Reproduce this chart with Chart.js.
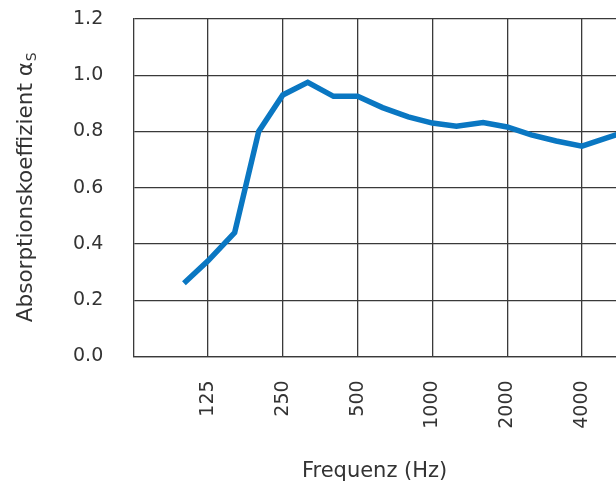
<!DOCTYPE html>
<html>
<head>
<meta charset="utf-8">
<script src="https://cdn.jsdelivr.net/npm/chart.js@4"></script>
<style>
  html, body { margin: 0; padding: 0; background: #fff; overflow: hidden; }
  #wrap { width: 616px; height: 491px; }
</style>
</head>
<body>
<div id="wrap"><canvas id="chart"></canvas></div>
<script>
// third-octave band centre frequencies (Hz)
const freqs = [100, 125, 160, 200, 250, 315, 400, 500, 630, 800, 1000, 1250, 1600, 2000, 2500, 3150, 4000, 5000, 6300];
// absorption coefficient alpha_s
const alpha = [0.26, 0.34, 0.44, 0.80, 0.93, 0.975, 0.925, 0.925, 0.885, 0.852, 0.83, 0.819, 0.832, 0.816, 0.788, 0.766, 0.748, 0.776, 0.805];
// octave tick labels on the x axis
const xTicks = [125, 250, 500, 1000, 2000, 4000];
const yTicks = [0, 0.2, 0.4, 0.6, 0.8, 1.0, 1.2];

const gridColor = '#3a3a3a';
const textColor = '#333333';
const fontFamily = '"DejaVu Sans", sans-serif';

// y axis title with subscript S
const yTitle = {
  id: 'yTitle',
  afterDraw(chart) {
    const ctx = chart.ctx;
    const area = chart.chartArea;
    const main = 'Absorptionskoeffizient \u03b1';
    const sub = 'S';
    ctx.save();
    ctx.fillStyle = textColor;
    ctx.font = '21.5px ' + fontFamily;
    const w1 = ctx.measureText(main).width;
    ctx.font = '14px ' + fontFamily;
    const w2 = ctx.measureText(sub).width;
    const total = w1 + w2;
    ctx.translate(32, (area.top + area.bottom) / 2);
    ctx.rotate(-Math.PI / 2);
    ctx.textBaseline = 'alphabetic';
    ctx.textAlign = 'left';
    ctx.font = '21.5px ' + fontFamily;
    ctx.fillText(main, -total / 2, 0);
    ctx.font = '14px ' + fontFamily;
    ctx.fillText(sub, -total / 2 + w1 + 1, 4);
    ctx.restore();
  }
};

new Chart(document.getElementById('chart'), {
  type: 'line',
  data: {
    datasets: [{
      data: freqs.map((f, i) => ({ x: f, y: alpha[i] })),
      borderColor: '#0a77c2',
      borderWidth: 5.5,
      pointRadius: 0,
      tension: 0,
      fill: false
    }]
  },
  options: {
    responsive: true,
    maintainAspectRatio: false,
    animation: false,
    layout: { padding: { left: 70, top: 19, right: 0, bottom: 7 } },
    plugins: { legend: { display: false }, tooltip: { enabled: false } },
    scales: {
      x: {
        type: 'logarithmic',
        min: 62.5,
        max: 5483,
        afterBuildTicks(axis) { axis.ticks = xTicks.map(v => ({ value: v })); },
        grid: { color: gridColor, lineWidth: 1.3, tickLength: 21, tickColor: 'rgba(0,0,0,0)' },
        border: { color: gridColor, width: 1.3 },
        ticks: {
          autoSkip: false,
          minRotation: 90,
          maxRotation: 90,
          padding: 3,
          color: textColor,
          font: { family: fontFamily, size: 19 },
          callback: v => String(v)
        },
        title: {
          display: true,
          text: 'Frequenz (Hz)',
          color: textColor,
          font: { family: fontFamily, size: 21 },
          padding: { top: 27, bottom: 0 }
        }
      },
      y: {
        min: 0,
        max: 1.2,
        afterBuildTicks(axis) { axis.ticks = yTicks.map(v => ({ value: v })); },
        grid: { color: gridColor, lineWidth: 1.3, tickLength: 27, tickColor: 'rgba(0,0,0,0)' },
        border: { color: gridColor, width: 1.3 },
        ticks: {
          padding: 3,
          color: textColor,
          font: { family: fontFamily, size: 19 },
          callback: v => v.toFixed(1)
        }
      }
    }
  },
  plugins: [yTitle]
});
</script>
</body>
</html>
